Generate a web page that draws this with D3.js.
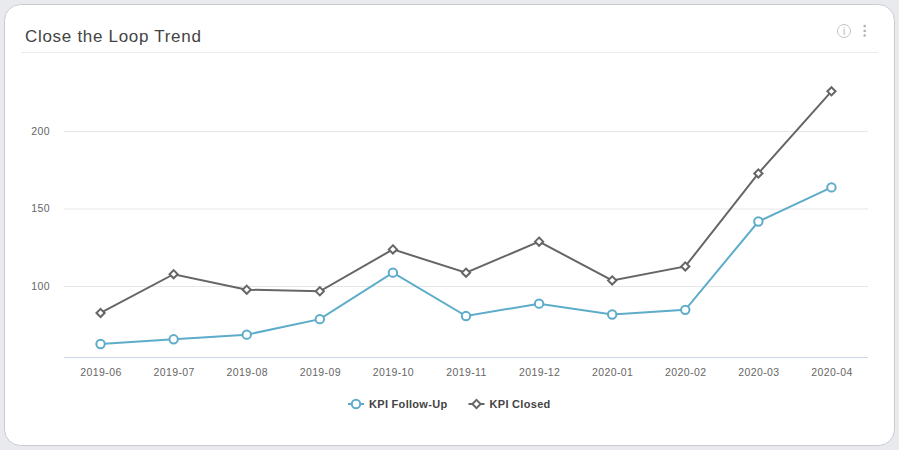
<!DOCTYPE html>
<html><head><meta charset="utf-8">
<script src="https://cdn.jsdelivr.net/npm/d3@7"></script>
<style>
html,body{margin:0;padding:0;background:#e8eaee;overflow:hidden}
svg{display:block}
text{font-family:"Liberation Sans",Arial,sans-serif}
</style></head><body>
<svg id="c" width="899" height="450"></svg>
<script>
const categories=["2019-06","2019-07","2019-08","2019-09","2019-10","2019-11","2019-12","2020-01","2020-02","2020-03","2020-04"];
const followUp=[63,66,69,79,109,81,89,82,85,142,164];
const closed=[83,108,98,97,124,109,129,104,113,173,226];
const yTicks=[100,150,200];
const title="Close the Loop Trend";
const seriesNames=["KPI Follow-Up","KPI Closed"];
const colors=["#5dacc9","#666666"];

const svg=d3.select("#c");
svg.append("rect").attr("x",4.5).attr("y",4.5).attr("width",890).attr("height",441).attr("rx",16)
  .attr("fill","#fff").attr("stroke","#c9cbd0");
svg.append("text").attr("x",25).attr("y",42).attr("font-size",17).attr("letter-spacing",0.7).attr("fill","#444").text(title);
svg.append("line").attr("x1",21).attr("x2",878).attr("y1",52.5).attr("y2",52.5).attr("stroke","#ececec");

// header icons
const ic=svg.append("g").attr("transform","translate(844,31)");
ic.append("circle").attr("r",6.5).attr("fill","none").attr("stroke","#c4c4c4");
ic.append("text").attr("text-anchor","middle").attr("y",3.5).attr("font-size",10).attr("font-family","DejaVu Serif").attr("fill","#b5b5b5").text("i");
const dots=svg.append("g").attr("fill","#b0b0b0");
[26,31,35.5].forEach(y=>dots.append("circle").attr("cx",864.7).attr("cy",y).attr("r",1.3));

const x=d3.scalePoint().domain(categories).range([64,868]).padding(0.5);
const y=d3.scaleLinear().domain([54.2,200]).range([357.6,131.6]);

const gy=svg.append("g").attr("transform","translate(64,-0.6)")
  .call(d3.axisLeft(y).tickValues(yTicks).tickSize(-804).tickPadding(14));
gy.select(".domain").remove();
gy.selectAll(".tick line").attr("stroke","#e6e6e6");
gy.selectAll("text").attr("font-size",10.5).attr("fill","#666").attr("letter-spacing",0.4).attr("font-family","Liberation Sans");

const gx=svg.append("g").attr("transform","translate(0,357)")
  .call(d3.axisBottom(x).tickSize(0).tickPadding(12));
gx.select(".domain").attr("stroke","#ccd6e4").attr("d","M64,0.5H868");
gx.selectAll("text").attr("font-size",10.5).attr("fill","#666").attr("letter-spacing",0.4).attr("font-family","Liberation Sans");

const line=d3.line().x((d,i)=>x(categories[i])).y(d=>y(d));
const diamond=s=>s.append("path").attr("d","M0,-4.1L4.1,0L0,4.1L-4.1,0Z");
function marker(g,i){
  if(i===0) g.append("circle").attr("r",4.2);
  else diamond(g);
  g.attr("fill","#fff").attr("stroke",colors[i]).attr("stroke-width",2);
}
[closed,followUp].forEach(d=>{
  const i=d===followUp?0:1;
  svg.append("path").datum(d).attr("d",line).attr("fill","none").attr("stroke",colors[i]).attr("stroke-width",2);
  d.forEach((v,k)=>{
    const g=svg.append("g").attr("transform",`translate(${x(categories[k])},${y(v)})`);
    marker(g,i);
  });
});

// legend
const legX=[348,468.5];
seriesNames.forEach((n,i)=>{
  const g=svg.append("g").attr("transform",`translate(${legX[i]},404)`);
  g.append("line").attr("x1",0).attr("x2",16).attr("stroke",colors[i]).attr("stroke-width",2);
  const m=g.append("g").attr("transform","translate(8,0)");
  marker(m,i);
  g.append("text").attr("x",21).attr("y",4).attr("font-size",11).attr("font-weight","bold").attr("letter-spacing",0.3).attr("fill","#444").text(n);
});
</script></body></html>
